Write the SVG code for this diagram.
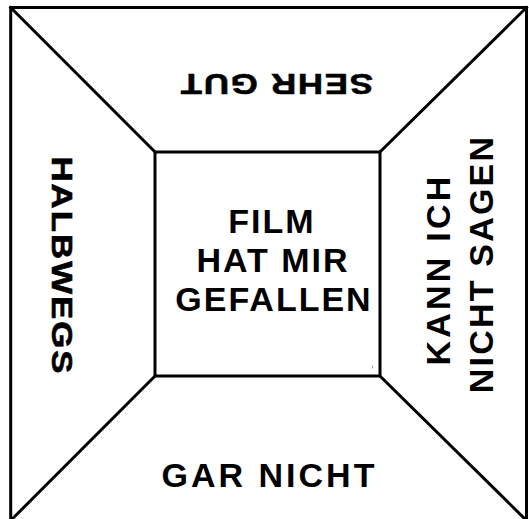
<svg xmlns="http://www.w3.org/2000/svg" width="529" height="519" viewBox="0 0 529 519">
<style>
.ln{fill:none;stroke:#000;stroke-width:3;stroke-linecap:square}
.t{font-family:"Liberation Sans",Arial,sans-serif;font-weight:bold;fill:#000;text-anchor:middle}
.big{font-size:34px;letter-spacing:2px}
.sm{font-size:29px;stroke:#000;stroke-width:0.6px}
</style>
<rect width="529" height="519" fill="#fff"/>
<g id="frame">
<rect class="ln" x="10.7" y="7.5" width="515.8" height="513"/>
</g>
<g id="connectors">
<line class="ln" x1="10.7" y1="7.5" x2="155" y2="152"/>
<line class="ln" x1="526.5" y1="7.5" x2="380" y2="152"/>
<line class="ln" x1="10.7" y1="520.5" x2="155" y2="376"/>
<line class="ln" x1="526.5" y1="520.5" x2="380" y2="376"/>
</g>
<g id="center">
<rect class="ln" x="155" y="152" width="225" height="224"/>
<line x1="372.5" y1="365.5" x2="372.5" y2="368.5" stroke="#999" stroke-width="1"/>
<text class="t big" x="272" y="232.5">FILM</text>
<text class="t big" x="273" y="271.5">HAT MIR</text>
<text class="t big" x="274" y="310.5">GEFALLEN</text>
</g>
<g id="top">
<text class="t sm" style="letter-spacing:1.5px" transform="translate(276 73.5) rotate(180) scale(1.2 1)">SEHR GUT</text>
</g>
<g id="bottom">
<text class="t big" style="letter-spacing:3px" x="269.5" y="486.5">GAR NICHT</text>
</g>
<g id="left">
<text class="t sm" style="letter-spacing:1.7px" transform="translate(51.7 266) rotate(90) scale(1.2 1)">HALBWEGS</text>
</g>
<g id="right">
<text class="t big" style="letter-spacing:3.2px" transform="translate(450 269.5) rotate(-90)">KANN ICH</text>
<text class="t big" style="letter-spacing:2.2px" transform="translate(493.3 264) rotate(-90)">NICHT SAGEN</text>
</g>
</svg>
